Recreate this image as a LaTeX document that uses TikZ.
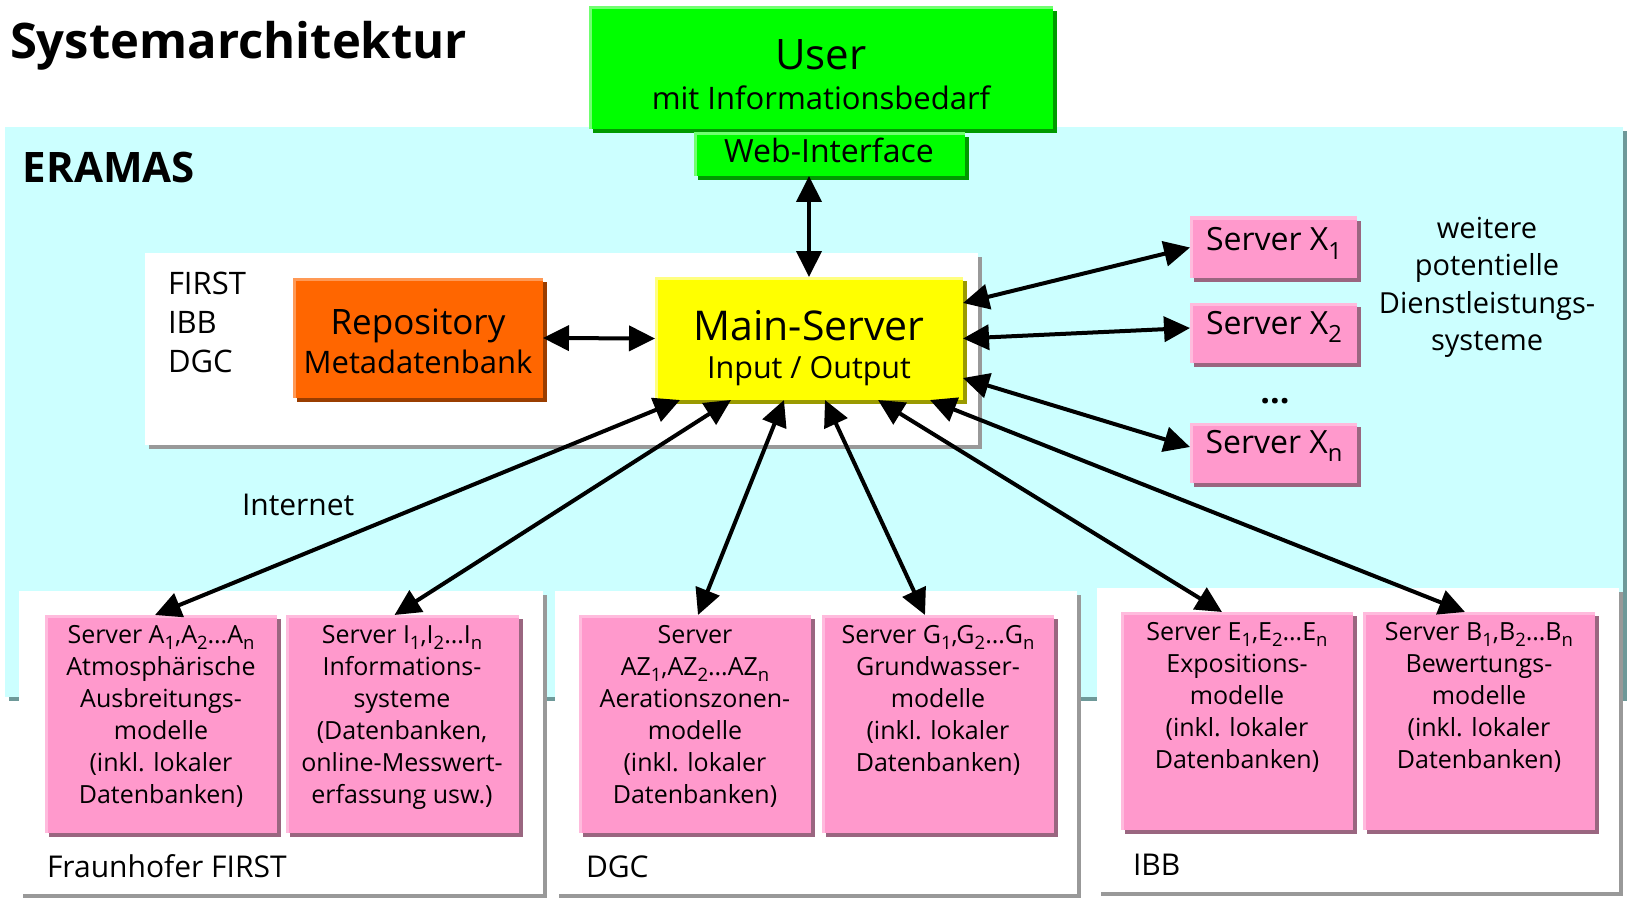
\documentclass[tikz,border=0pt]{standalone}
\usepackage{fontspec}
\setmainfont{Open Sans}
\usetikzlibrary{shadows,arrows.meta}
\definecolor{cyanbg}{HTML}{CCFFFF}
\definecolor{cyansh}{HTML}{6E9999}
\definecolor{grn}{HTML}{00FF00}
\definecolor{grnsh}{HTML}{009A00}
\definecolor{grnhl}{HTML}{70FF70}
\definecolor{org}{HTML}{FF6600}
\definecolor{orgsh}{HTML}{9A3D00}
\definecolor{orghl}{HTML}{FF9955}
\definecolor{yel}{HTML}{FFFF00}
\definecolor{yelsh}{HTML}{9A9A00}
\definecolor{yelhl}{HTML}{FFFF80}
\definecolor{pnk}{HTML}{FF99CC}
\definecolor{pnksh}{HTML}{9A6680}
\definecolor{pnkhl}{HTML}{FFBBDD}
\definecolor{wsh}{HTML}{999999}
\newcommand{\fs}[2]{\fontsize{#1}{#2}\selectfont}
\newcommand{\sbs}[1]{\raisebox{-0.26em}{\scalebox{0.74}{#1}}}
\tikzset{
  shbox/.style n args={3}{fill=#1, draw=none, inner sep=0pt, outer sep=0pt, anchor=north west,
    drop shadow={shadow xshift=4pt, shadow yshift=-4pt, fill=#2, opacity=1},
    path picture={\draw[#3, line width=5pt] (path picture bounding box.south west) -- (path picture bounding box.north west) -- (path picture bounding box.north east);}},
  wbox/.style={fill=white, draw=none, inner sep=0pt, outer sep=0pt, anchor=north west,
    drop shadow={shadow xshift=4pt, shadow yshift=-4pt, fill=wsh, opacity=1}},
  txt/.style={inner sep=0pt, outer sep=0pt, anchor=base, align=center},
  ltxt/.style={inner sep=0pt, outer sep=0pt, anchor=base west},
  ptxt/.style={txt, font=\fs{25}{32}},
  arr/.style={{Triangle[length=26pt,width=25pt]}-{Triangle[length=26pt,width=25pt]}, line width=4pt, black},
}
\begin{document}
\begin{tikzpicture}[x=1pt,y=-1pt]
\useasboundingbox (0,0) rectangle (1627,912);
\fill[white] (0,0) rectangle (1627,912);
% backgrounds
\node[fill=cyanbg, draw=none, inner sep=0pt, outer sep=0pt, anchor=north west,
  drop shadow={shadow xshift=4pt, shadow yshift=-4pt, fill=cyansh, opacity=1},
  minimum width=1618pt, minimum height=570pt] (eramasbg) at (5,127) {};
\node[wbox, minimum width=833pt, minimum height=192pt] (topw) at (145,253) {};
\node[wbox, minimum width=524pt, minimum height=303pt] (firstw) at (19,591) {};
\node[wbox, minimum width=522pt, minimum height=303pt] (dgcw) at (555,591) {};
\node[wbox, minimum width=522pt, minimum height=304pt] (ibbw) at (1097,588) {};
% boxes
\node[shbox={grn}{grnsh}{grnhl}, minimum width=464pt, minimum height=122pt] (user) at (589,7) {};
\node[shbox={grn}{grnsh}{grnhl}, minimum width=271pt, minimum height=43pt] (web) at (694,133) {};
\node[shbox={org}{orgsh}{orghl}, minimum width=250pt, minimum height=120pt] (repo) at (293,278) {};
\node[shbox={yel}{yelsh}{yelhl}, minimum width=308pt, minimum height=123pt] (main) at (655,277) {};
\node[shbox={pnk}{pnksh}{pnkhl}, minimum width=167pt, minimum height=61pt] (X1) at (1190,217) {};
\node[shbox={pnk}{pnksh}{pnkhl}, minimum width=167pt, minimum height=60pt] (X2) at (1190,303) {};
\node[shbox={pnk}{pnksh}{pnkhl}, minimum width=167pt, minimum height=60pt] (Xn) at (1190,423) {};
\node[shbox={pnk}{pnksh}{pnkhl}, minimum width=232pt, minimum height=218pt] (A) at (45,615) {};
\node[shbox={pnk}{pnksh}{pnkhl}, minimum width=233pt, minimum height=218pt] (I) at (286,615) {};
\node[shbox={pnk}{pnksh}{pnkhl}, minimum width=232pt, minimum height=218pt] (AZ) at (579,615) {};
\node[shbox={pnk}{pnksh}{pnkhl}, minimum width=232pt, minimum height=218pt] (G) at (822,615) {};
\node[shbox={pnk}{pnksh}{pnkhl}, minimum width=232pt, minimum height=218pt] (E) at (1121,612) {};
\node[shbox={pnk}{pnksh}{pnkhl}, minimum width=232pt, minimum height=218pt] (B) at (1363,612) {};
% texts (multi-line nodes: base = baseline of last line)
\node[ltxt, font=\fs{49}{58}\bfseries] (title) at (10,59) {Systemarchitektur};
\node[ltxt, font=\fs{42}{50}\bfseries] (eramas) at (23,183) {ERAMAS};
\node[txt, font=\fs{42}{50}] (usert) at (821,70) {User};
\node[txt, font=\fs{31}{38}] (usert2) at (821,110) {mit Informationsbedarf};
\node[txt, font=\fs{32}{38}] (webt) at (829,163) {Web-Interface};
\node[ltxt, font=\fs{31}{39}, align=left] (orgs) at (168,372) {FIRST\\IBB\\DGC};
\node[txt, font=\fs{35}{40}] (repot) at (418,334) {Repository};
\node[txt, font=\fs{31}{38}] (repot2) at (418,373) {Metadatenbank};
\node[txt, font=\fs{41}{46}] (maint) at (809,340) {Main-Server};
\node[txt, font=\fs{30.5}{36}] (maint2) at (809,378) {Input / Output};
\node[txt, font=\fs{32}{38}] (X1t) at (1274,251) {Server X\sbs{1}};
\node[txt, font=\fs{32}{38}] (X2t) at (1274,334) {Server X\sbs{2}};
\node[txt, font=\fs{32}{38}] (Xnt) at (1274,453) {Server X\sbs{n}};
\node[txt, font=\fs{34}{38}\bfseries] (dots) at (1275,403) {...};
\node[txt, font=\fs{29}{37.5}] (weitere) at (1487,350.5) {weitere\\potentielle\\Dienstleistungs-\\systeme};
\node[ltxt, font=\fs{30}{36}] (internet) at (242,515) {Internet};
\node[ltxt, font=\fs{30}{36}] (firstl) at (47,877) {Fraunhofer FIRST};
\node[ltxt, font=\fs{30}{36}] (dgcl) at (586,877) {DGC};
\node[ltxt, font=\fs{30}{36}] (ibbl) at (1133,875) {IBB};
\node[ptxt] (At) at (161,803) {Server A\sbs{1},A\sbs{2}…A\sbs{n}\\Atmosphärische\\Ausbreitungs-\\modelle\\(inkl. lokaler\\Datenbanken)};
\node[ptxt] (It) at (402,803) {Server I\sbs{1},I\sbs{2}…I\sbs{n}\\Informations-\\systeme\\(Datenbanken,\\online-Messwert-\\erfassung usw.)};
\node[ptxt] (AZt) at (695,803) {Server\\AZ\sbs{1},AZ\sbs{2}…AZ\sbs{n}\\Aerationszonen-\\modelle\\(inkl. lokaler\\Datenbanken)};
\node[ptxt] (Gt) at (938,771) {Server G\sbs{1},G\sbs{2}…G\sbs{n}\\Grundwasser-\\modelle\\(inkl. lokaler\\Datenbanken)};
\node[ptxt] (Et) at (1237,768) {Server E\sbs{1},E\sbs{2}…E\sbs{n}\\Expositions-\\modelle\\(inkl. lokaler\\Datenbanken)};
\node[ptxt] (Bt) at (1479,768) {Server B\sbs{1},B\sbs{2}…B\sbs{n}\\Bewertungs-\\modelle\\(inkl. lokaler\\Datenbanken)};
% arrows
\draw[arr] (web.south -| main.north) -- (main.north);
\draw[arr] (repo.east) -- (main.west);
\draw[arr] ([yshift=35.5pt]main.east) -- (X1.west);
\draw[arr] (main.east) -- ([yshift=5pt]X2.west);
\draw[arr] ([yshift=-39.5pt]main.east) -- ([yshift=6pt]Xn.west);
\draw[arr] ([xshift=25pt]main.south west) -- ([xshift=-6pt]A.north);
\draw[arr] ([xshift=76pt]main.south west) -- ([xshift=-8pt]I.north);
\draw[arr] ([xshift=129pt]main.south west) -- ([xshift=3pt]AZ.north);
\draw[arr] ([xshift=170pt]main.south west) -- ([xshift=-13pt]G.north);
\draw[arr] ([xshift=223pt]main.south west) -- ([xshift=-15pt]E.north);
\draw[arr] ([xshift=275pt]main.south west) -- ([xshift=-14pt]B.north);
\end{tikzpicture}
\end{document}
